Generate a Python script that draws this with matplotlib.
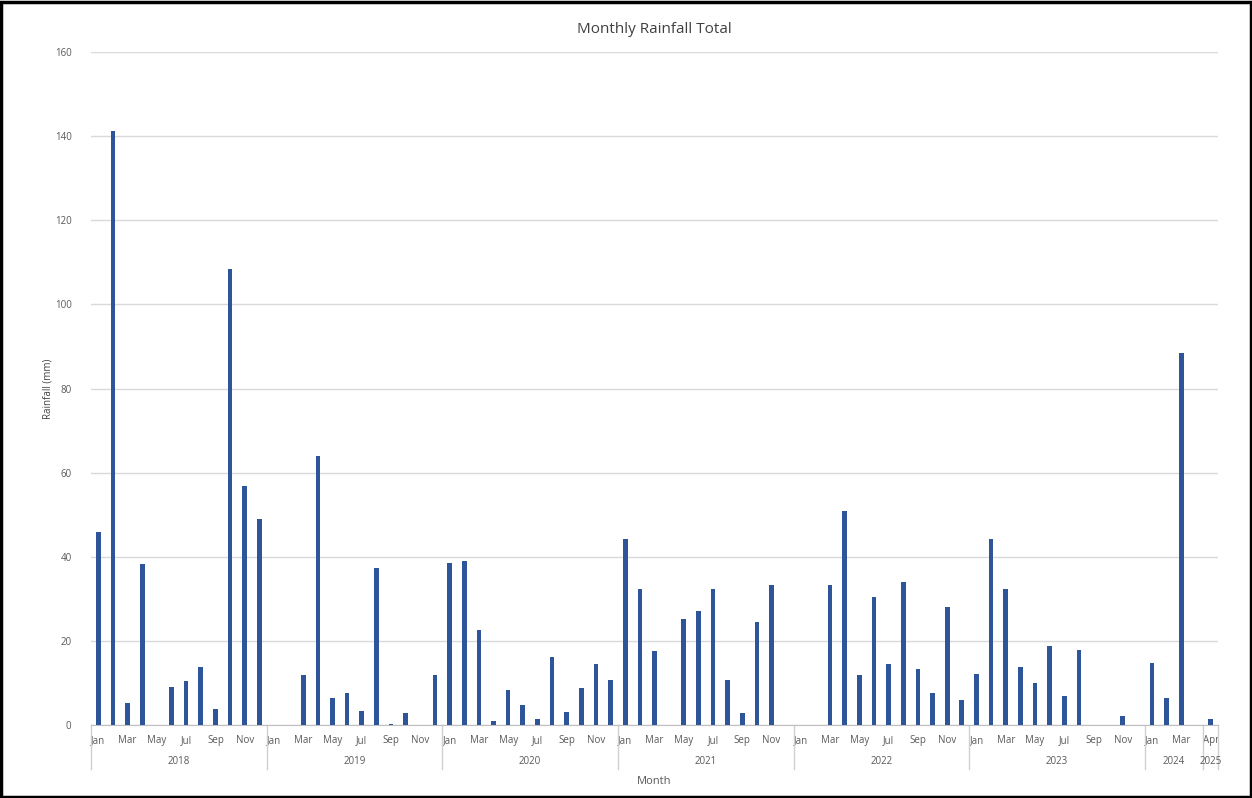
import matplotlib.pyplot as plt
from matplotlib.patches import Rectangle
import numpy as np

plt.rcParams['font.family'] = ['Open Sans', 'DejaVu Sans']

# monthly rainfall (mm), categories in order, Jan 2018 .. Apr 2025
years = ['2018', '2019', '2020', '2021', '2022', '2023', '2024', '2025']
months_per_year = [12, 12, 12, 12, 12, 12, 4, 1]
month_names = ['Jan', 'Feb', 'Mar', 'Apr', 'May', 'Jun',
               'Jul', 'Aug', 'Sep', 'Oct', 'Nov', 'Dec']
month_labels = month_names * 6 + ['Jan', 'Feb', 'Mar', 'Apr'] + ['Apr']

rain_2018 = [46, 141.2, 5.2, 38.2, 0, 9.0, 10.4, 13.7, 3.9, 108.5, 56.8, 49.0]
rain_2019 = [0, 0, 12.0, 64.0, 6.5, 7.7, 3.4, 37.3, 0.3, 2.9, 0, 12.0]
rain_2020 = [38.4, 39.0, 22.7, 1.0, 8.4, 4.8, 1.4, 16.2, 3.2, 8.7, 14.6, 10.7]
rain_2021 = [44.3, 32.4, 17.6, 0, 25.1, 27.1, 32.4, 10.7, 2.9, 24.6, 33.4, 0]
rain_2022 = [0, 0, 33.2, 50.9, 11.8, 30.4, 14.6, 34.0, 13.2, 7.6, 28.1, 5.9]
rain_2023 = [12.1, 44.3, 32.4, 13.8, 10.1, 18.8, 7.0, 17.8, 0, 0, 2.1, 0]
rain_2024 = [14.7, 6.5, 88.5, 0]
rain_2025 = [1.5]

rain = (rain_2018 + rain_2019 + rain_2020 + rain_2021 + rain_2022
        + rain_2023 + rain_2024 + rain_2025)
x = np.arange(len(rain))

fig = plt.figure(figsize=(12.52, 7.98), dpi=100)
ax = fig.add_axes([0.0727, 0.0915, 0.9001, 0.8433])

ax.bar(x, rain, width=0.32, color='#2E559A', zorder=3)

ax.set_xlim(-0.5, len(rain) - 0.5)
ax.set_ylim(0, 160)
ax.set_yticks(np.arange(0, 161, 20))
ax.grid(axis='y', color='#D9D9D9', linewidth=1, zorder=0)
for s in ['top', 'right', 'left']:
    ax.spines[s].set_visible(False)
ax.spines['bottom'].set_color('#BFBFBF')

ax.set_xticks(x[::2])
ax.set_xticklabels(month_labels[::2])
ax.tick_params(axis='x', length=0, pad=7, labelsize=7, labelcolor='#595959')
ax.tick_params(axis='y', length=0, pad=14, labelsize=7, labelcolor='#595959')

# year level of the category axis
trans = ax.get_xaxis_transform()
edges = np.concatenate([[0], np.cumsum(months_per_year)]) - 0.5
for e in edges:
    ax.plot([e, e], [0, -0.065], transform=trans, color='#D0D0D0',
            linewidth=1, clip_on=False)
for i, yr in enumerate(years):
    mid = (edges[i] + edges[i + 1]) / 2
    ax.text(mid, -0.054, yr, transform=trans, ha='center', va='center',
            fontsize=7, color='#595959')

ax.set_xlabel('Month', fontsize=8, color='#595959', labelpad=22)
ax.set_ylabel('Rainfall (mm)', fontsize=7, color='#404040', labelpad=1)
ax.set_title('Monthly Rainfall Total', fontsize=11, color='#404040', pad=14)

fig.patches.append(Rectangle((0.001, 0.001), 0.998, 0.997, transform=fig.transFigure,
                             fill=False, edgecolor='black', linewidth=2.5))

fig.savefig('out.png', dpi=100)
